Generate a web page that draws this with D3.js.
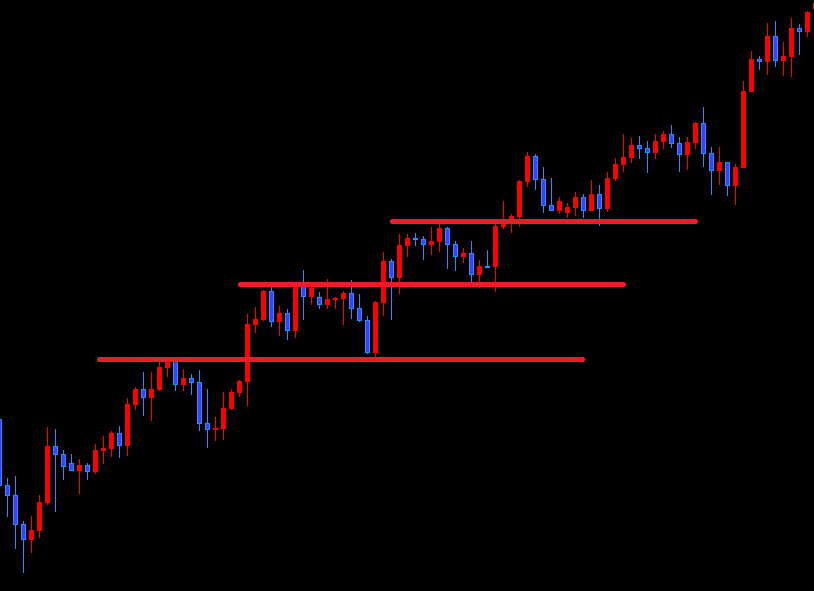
<!DOCTYPE html>
<html>
<head>
<meta charset="utf-8">
<script src="https://cdnjs.cloudflare.com/ajax/libs/d3/7.8.5/d3.min.js"></script>
<style>
  html, body { margin: 0; padding: 0; background: #000; overflow: hidden; }
  #chart { width: 814px; height: 591px; }
</style>
</head>
<body>
<div id="chart"></div>
<script>
// price in points, one entry per bar (left to right)
var opens = [181,115,105,76,60,69,97,154,146,137,129,135,128,149,151,167,154,195,211,202,210,232,239,215,222,218,177,170,171,191,207,218,275,280,309,278,287,269,314,303,303,295,300,301,307,292,280,247,297,339,322,354,362,361,355,358,372,356,343,347,325,334,333,373,380,383,418,444,421,395,389,387,392,403,389,406,391,421,435,442,455,452,447,458,466,457,445,457,477,447,429,438,414,432,508,541,538,564,539,543,572,568,591];
var highs = [182,122,124,79,84,105,173,171,150,146,141,137,156,164,169,174,202,213,228,228,239,242,242,231,226,230,211,183,208,211,220,286,293,310,314,294,291,317,330,314,308,321,303,309,320,306,284,299,348,341,366,366,367,364,373,377,373,359,352,359,340,350,378,399,386,420,448,446,433,422,403,397,408,406,420,415,428,442,466,462,464,459,466,469,475,463,463,478,493,453,453,438,436,519,549,544,577,579,558,582,576,589,600];
var lows = [113,83,51,27,47,62,95,88,120,129,106,120,126,136,143,142,144,190,184,179,209,223,209,209,205,169,152,159,160,190,203,194,267,279,273,264,260,262,280,295,291,291,291,275,281,278,246,243,284,280,306,343,354,340,345,348,331,329,337,318,312,332,308,371,367,373,413,410,387,389,386,382,384,382,389,374,388,419,428,437,441,427,441,451,452,428,430,451,433,405,415,404,395,432,508,530,525,533,524,523,545,563,590];
var closes = [114,104,75,60,70,98,154,145,133,129,135,128,150,152,167,154,196,211,202,211,233,238,215,222,217,176,170,172,192,208,219,276,281,309,278,287,269,313,303,312,295,301,302,307,291,279,247,298,339,322,355,362,360,355,359,372,355,343,347,325,334,333,374,379,384,419,444,420,394,389,399,393,403,389,406,391,422,436,443,455,451,447,459,466,456,445,458,477,446,429,438,414,433,509,541,538,564,539,544,572,568,588,597];

// support / resistance levels: price and the bar span they cover
var levelPrices = [240.5, 315.5, 378.5];
var levelFrom = [12.5, 30.1, 49.1];
var levelTo = [72.9, 78.0, 87.0];

var bars = [];
for (var i = 0 ; i < opens.length ; i++){
  bars.push({i: i, open: opens[i], high: highs[i], low: lows[i], close: closes[i]});
}

var width = 814, height = 591;

var svg = d3.select("#chart").append("svg")
  .attr("width", width)
  .attr("height", height)
  .style("display", "block")
  .style("background", "#000");

var x = d3.scaleLinear()
  .domain([0, 102])
  .range([-0.5, 815.5]);
var y = d3.scaleLinear()
  .domain([9, 600])
  .range([height, 0]);

var bodyW = 5;
var upColor = "#ff0000",
  downFill = "#4040ff",
  downLine = "#1e90ff";

var g = svg.append("g");

var candle = g.selectAll(".candle")
  .data(bars)
  .enter()
  .append("g")
  .attr("class", "candle");

// wicks
candle.append("line")
  .attr("x1", function(d){ return x(d.i); })
  .attr("x2", function(d){ return x(d.i); })
  .attr("y1", function(d){ return y(d.high); })
  .attr("y2", function(d){ return y(d.low); })
  .attr("stroke", function(d){ return d.close >= d.open ? upColor : downLine; })
  .attr("stroke-width", 1);

// bull bodies
candle.filter(function(d){ return d.close >= d.open; })
  .append("rect")
  .attr("x", function(d){ return x(d.i) - bodyW / 2; })
  .attr("y", function(d){ return y(d.close); })
  .attr("width", bodyW)
  .attr("height", function(d){ return Math.max(2, y(d.open) - y(d.close)); })
  .attr("fill", upColor);

// bear bodies (outlined)
candle.filter(function(d){ return d.close < d.open; })
  .append("rect")
  .attr("x", function(d){ return x(d.i) - bodyW / 2 + 0.5; })
  .attr("y", function(d){ return y(d.open) + 0.5; })
  .attr("width", bodyW - 1)
  .attr("height", function(d){ return Math.max(1, y(d.close) - y(d.open) - 1); })
  .attr("fill", downFill)
  .attr("stroke", downLine)
  .attr("stroke-width", 1);

// horizontal levels drawn over the bars
var levels = levelPrices.map(function(p, k){ return {price: p, from: levelFrom[k], to: levelTo[k]}; });

g.selectAll(".level")
  .data(levels)
  .enter()
  .append("line")
  .attr("class", "level")
  .attr("x1", function(d){ return x(d.from); })
  .attr("x2", function(d){ return x(d.to); })
  .attr("y1", function(d){ return y(d.price); })
  .attr("y2", function(d){ return y(d.price); })
  .attr("stroke", "#ee1c24")
  .attr("stroke-width", 5)
  .attr("stroke-linecap", "round");
</script>
</body>
</html>
